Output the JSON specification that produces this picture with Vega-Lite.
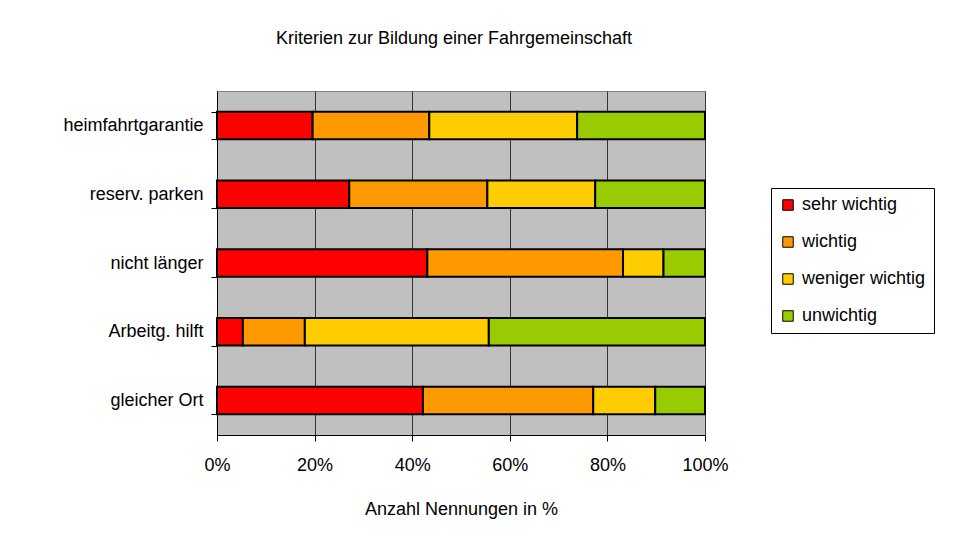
{
  "$schema": "https://vega.github.io/schema/vega-lite/v6.json",
  "autosize": {"type": "none"},
  "width": 488,
  "height": 344,
  "padding": {"left": 217, "top": 91, "right": 252, "bottom": 114},
  "background": "white",
  "title": {
    "text": "Kriterien zur Bildung einer Fahrgemeinschaft",
    "font": "Liberation Sans",
    "fontSize": 18,
    "fontWeight": "normal",
    "color": "black",
    "anchor": "middle",
    "frame": "group",
    "baseline": "alphabetic",
    "offset": 20,
    "dx": -7
  },
  "data": {
    "values": [
      {"kriterium": "heimfahrtgarantie", "bewertung": "sehr wichtig", "rang": 1, "anteil": 19.6},
      {"kriterium": "heimfahrtgarantie", "bewertung": "wichtig", "rang": 2, "anteil": 23.9},
      {"kriterium": "heimfahrtgarantie", "bewertung": "weniger wichtig", "rang": 3, "anteil": 30.3},
      {"kriterium": "heimfahrtgarantie", "bewertung": "unwichtig", "rang": 4, "anteil": 26.2},
      {"kriterium": "reserv. parken", "bewertung": "sehr wichtig", "rang": 1, "anteil": 27.1},
      {"kriterium": "reserv. parken", "bewertung": "wichtig", "rang": 2, "anteil": 28.3},
      {"kriterium": "reserv. parken", "bewertung": "weniger wichtig", "rang": 3, "anteil": 22.1},
      {"kriterium": "reserv. parken", "bewertung": "unwichtig", "rang": 4, "anteil": 22.5},
      {"kriterium": "nicht länger", "bewertung": "sehr wichtig", "rang": 1, "anteil": 43.1},
      {"kriterium": "nicht länger", "bewertung": "wichtig", "rang": 2, "anteil": 40.1},
      {"kriterium": "nicht länger", "bewertung": "weniger wichtig", "rang": 3, "anteil": 8.3},
      {"kriterium": "nicht länger", "bewertung": "unwichtig", "rang": 4, "anteil": 8.5},
      {"kriterium": "Arbeitg. hilft", "bewertung": "sehr wichtig", "rang": 1, "anteil": 5.3},
      {"kriterium": "Arbeitg. hilft", "bewertung": "wichtig", "rang": 2, "anteil": 12.7},
      {"kriterium": "Arbeitg. hilft", "bewertung": "weniger wichtig", "rang": 3, "anteil": 37.7},
      {"kriterium": "Arbeitg. hilft", "bewertung": "unwichtig", "rang": 4, "anteil": 44.3},
      {"kriterium": "gleicher Ort", "bewertung": "sehr wichtig", "rang": 1, "anteil": 42.2},
      {"kriterium": "gleicher Ort", "bewertung": "wichtig", "rang": 2, "anteil": 34.9},
      {"kriterium": "gleicher Ort", "bewertung": "weniger wichtig", "rang": 3, "anteil": 12.7},
      {"kriterium": "gleicher Ort", "bewertung": "unwichtig", "rang": 4, "anteil": 10.2}
    ]
  },
  "mark": {"type": "bar", "stroke": "black", "strokeWidth": 2},
  "encoding": {
    "y": {
      "field": "kriterium",
      "type": "nominal",
      "sort": ["heimfahrtgarantie", "reserv. parken", "nicht länger", "Arbeitg. hilft", "gleicher Ort"],
      "scale": {"paddingInner": 0.6, "paddingOuter": 0.3},
      "axis": {
        "title": null,
        "grid": false,
        "tickBand": "extent",
        "tickSize": 6,
        "tickColor": "black",
        "domainColor": "black",
        "labelPadding": 8,
        "labelFont": "Liberation Sans",
        "labelFontSize": 18,
        "labelColor": "black"
      }
    },
    "x": {
      "field": "anteil",
      "type": "quantitative",
      "stack": "normalize",
      "scale": {"domain": [0, 1], "nice": false},
      "axis": {
        "title": "Anzahl Nennungen in %",
        "titleFont": "Liberation Sans",
        "titleFontSize": 18,
        "titleFontWeight": "normal",
        "titleColor": "black",
        "titlePadding": 26,
        "format": ".0%",
        "values": [0, 0.2, 0.4, 0.6, 0.8, 1],
        "grid": true,
        "gridColor": "#333333",
        "gridOpacity": 1,
        "tickSize": 6,
        "tickColor": "black",
        "domainColor": "black",
        "labelPadding": 15,
        "labelFont": "Liberation Sans",
        "labelFontSize": 18,
        "labelColor": "black",
        "labelFlush": false
      }
    },
    "color": {
      "field": "bewertung",
      "type": "nominal",
      "scale": {
        "domain": ["sehr wichtig", "wichtig", "weniger wichtig", "unwichtig"],
        "range": ["#FF0000", "#FF9900", "#FFCC00", "#99CC00"]
      },
      "legend": {
        "title": null,
        "orient": "none",
        "legendX": 554,
        "legendY": 97,
        "symbolType": "square",
        "symbolSize": 110,
        "symbolStrokeColor": "black",
        "symbolStrokeWidth": 1,
        "symbolOpacity": 1,
        "labelFont": "Liberation Sans",
        "labelFontSize": 18,
        "labelColor": "black",
        "labelLimit": 300,
        "labelOffset": 5,
        "rowPadding": 19,
        "padding": 8,
        "strokeColor": "black",
        "fillColor": "white"
      }
    },
    "order": {"field": "rang", "type": "quantitative"}
  },
  "config": {
    "view": {"fill": "#C0C0C0", "stroke": "#808080"}
  }
}
